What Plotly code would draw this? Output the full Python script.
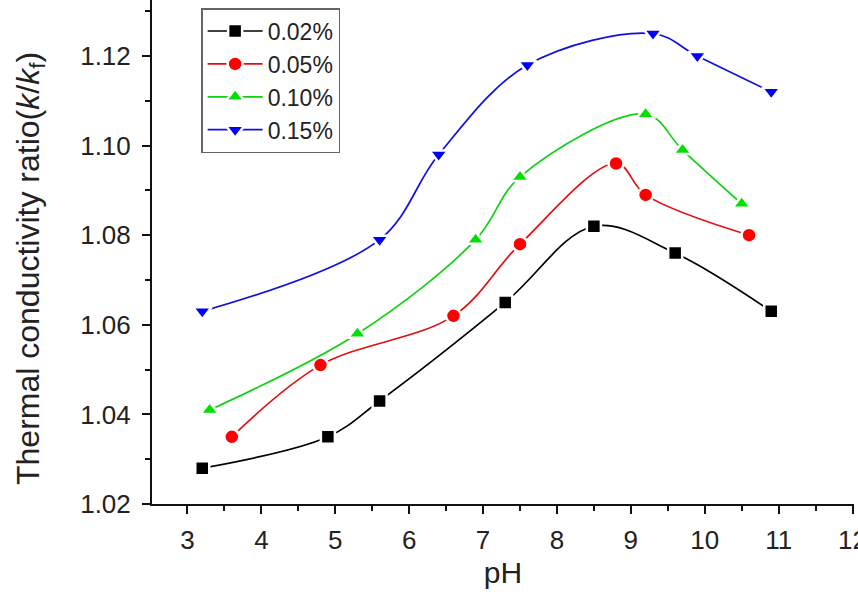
import plotly.graph_objects as go

ph_002 = [3.2, 4.9, 5.6, 7.3, 8.5, 9.6, 10.9]
k_002 = [1.028, 1.035, 1.043, 1.065, 1.082, 1.076, 1.063]
ph_005 = [3.6, 4.8, 6.6, 7.5, 8.8, 9.2, 10.6]
k_005 = [1.035, 1.051, 1.062, 1.078, 1.096, 1.089, 1.080]
ph_010 = [3.3, 5.3, 6.9, 7.5, 9.2, 9.7, 10.5]
k_010 = [1.041, 1.058, 1.079, 1.093, 1.107, 1.099, 1.087]
ph_015 = [3.2, 5.6, 6.4, 7.6, 9.3, 9.9, 10.9]
k_015 = [1.063, 1.079, 1.098, 1.118, 1.125, 1.120, 1.112]

labels = ["0.02%", "0.05%", "0.10%", "0.15%"]
line_colors = ["#000000", "#e01010", "#10d010", "#1010e0"]
marker_colors = ["#000000", "#ff0000", "#00e000", "#0000ff"]
symbols = ["square", "circle", "triangle-up", "triangle-down"]
sizes = [14, 15, 16, 16]
xs = [ph_002, ph_005, ph_010, ph_015]
ys = [k_002, k_005, k_010, k_015]

fig = go.Figure()
for x, y, lab, lc, mc, s, sz in zip(xs, ys, labels, line_colors, marker_colors, symbols, sizes):
    fig.add_trace(go.Scatter(
        x=x, y=y, name=lab, mode="lines+markers",
        line=dict(color=lc, width=1.7, shape="spline", smoothing=1.0),
        marker=dict(symbol=s, size=sz, color=mc, line=dict(color="white", width=2.5)),
    ))

font = "Arial, Liberation Sans, sans-serif"
fig.update_layout(
    width=858, height=597,
    margin=dict(l=152, r=4, t=0, b=93, autoexpand=False),
    paper_bgcolor="white", plot_bgcolor="white",
    font=dict(family=font, size=26, color="#222"),
    showlegend=True,
    legend=dict(
        x=0.07, y=0.984, xanchor="left", yanchor="top",
        bgcolor="white", bordercolor="#666", borderwidth=1.5,
        font=dict(size=23, family=font, color="#222"),
        itemwidth=55, tracegroupgap=0,
    ),
    xaxis=dict(
        range=[2.52, 12.02], showgrid=False, zeroline=False, automargin=False,
        showline=True, linecolor="#111", linewidth=2,
        ticks="outside", ticklen=8, tickwidth=2, tickcolor="#111",
        tick0=3, dtick=1, ticklabeloverflow="allow",
        minor=dict(ticks="outside", ticklen=5, tickwidth=1.5, tickcolor="#111", dtick=0.5, tick0=2.5),
        tickfont=dict(size=26), ticklabelstandoff=4,
        title=dict(text="pH", font=dict(size=30), standoff=8),
    ),
    yaxis=dict(
        range=[1.02, 1.1325], showgrid=False, zeroline=False, automargin=False,
        showline=True, linecolor="#111", linewidth=2,
        ticks="outside", ticklen=8, tickwidth=2, tickcolor="#111",
        tick0=1.02, dtick=0.02, tickformat=".2f",
        minor=dict(ticks="outside", ticklen=5, tickwidth=1.5, tickcolor="#111", dtick=0.01),
        tickfont=dict(size=26), ticklabelstandoff=6,
    ),
    annotations=[dict(
        text="Thermal conductivity ratio(<i>k</i>/<i>k</i><sub>f</sub>)",
        xref="paper", yref="paper", x=-0.174, y=0.468,
        xanchor="center", yanchor="middle", textangle=-90, showarrow=False,
        font=dict(size=32, family=font, color="#222"),
    )],
)

fig.write_html("out.html")
